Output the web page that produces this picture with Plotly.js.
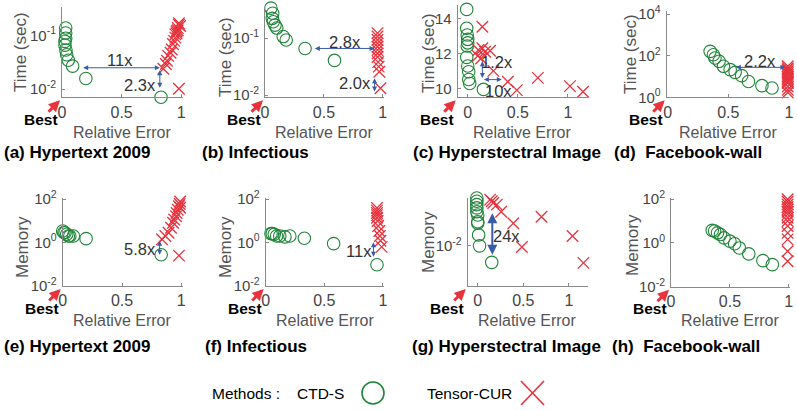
<!DOCTYPE html>
<html>
<head>
<meta charset="utf-8">
<script src="https://cdn.plot.ly/plotly-3.0.1.min.js"></script>
<style>
  html, body { margin:0; padding:0; background:#fff; }
  #chart { width:797px; height:410px; }
</style>
</head>
<body>
<div id="chart"></div>
<script>
// values: relative error vs time (top row) / memory (bottom row)
// (a) Hypertext 2009 - time
const aErrCtd  = [0.031, 0.031, 0.031, 0.025, 0.025, 0.033, 0.039, 0.053, 0.089, 0.20, 0.83];
const aTimeCtd = [0.138, 0.111, 0.0891, 0.0776, 0.0661, 0.0537, 0.0437, 0.0347, 0.0269, 0.0158, 0.00708];
const aErrCur  = [0.85, 0.87, 0.88, 0.89, 0.91, 0.92, 0.93, 0.94, 0.95, 0.95, 0.96, 0.96, 0.97, 0.97, 0.98, 0.98, 0.99, 0.98];
const aTimeCur = [0.024, 0.0295, 0.0339, 0.0417, 0.0479, 0.055, 0.0692, 0.0794, 0.0912, 0.105, 0.12, 0.11, 0.138, 0.125, 0.158, 0.17, 0.15, 0.0102];
// (b) Infectious - time
const bErrCtd  = [0.05, 0.065, 0.062, 0.07, 0.085, 0.10, 0.155, 0.18, 0.34, 0.59, 0.96];
const bTimeCtd = [0.339, 0.275, 0.224, 0.195, 0.17, 0.151, 0.107, 0.0933, 0.0661, 0.0407, 0.00912];
const bErrCur  = [0.955, 0.955, 0.955, 0.955, 0.955, 0.955, 0.955, 0.955, 0.96, 0.965, 0.97, 0.98];
const bTimeCur = [0.123, 0.107, 0.0933, 0.0813, 0.0708, 0.0617, 0.0537, 0.0468, 0.038, 0.0316, 0.0257, 0.0132];
// (c) Hyperstectral Image - time
const cErrCtd  = [-0.01, -0.01, -0.005, 0, 0, -0.005, -0.01, 0, 0.01, 0.01, 0.02, 0.157];
const cTimeCtd = [14.51, 13.43, 13.05, 12.8, 12.6, 12.42, 11.77, 11.28, 10.95, 10.51, 10.28, 9.94];
const cErrCur  = [0.146, 0.106, 0.146, 0.173, 0.223, 0.10, 0.133, 0.256, 0.40, 0.49, 0.70, 1.02, 1.15];
const cTimeCur = [13.52, 12.19, 12.29, 12.09, 12.15, 11.85, 11.71, 11.0, 10.38, 9.9, 10.6, 10.13, 9.81];
// (d) Facebook-wall - time
const dErrCtd  = [0.35, 0.377, 0.39, 0.424, 0.46, 0.515, 0.556, 0.61, 0.666, 0.777, 0.86];
const dTimeCtd = [162, 112, 77.6, 53.7, 30.9, 21.4, 15.8, 11.0, 5.75, 3.63, 2.82];
const dErrCur  = [0.99, 0.99, 0.99, 0.99, 0.99, 0.99, 0.99, 0.99, 0.99, 0.99, 0.99, 0.99, 0.99, 0.99];
const dTimeCur = [30.9, 25.1, 21.4, 17.8, 14.8, 12.3, 10.0, 8.3, 7.08, 5.8, 4.9, 3.31, 2.29, 1.7];
// (e) Hypertext 2009 - memory
const eErrCtd  = [0.0, 0.01, 0.02, 0.034, 0.048, 0.06, 0.09, 0.197, 0.83];
const eMemCtd  = [3.39, 2.9, 2.82, 2.4, 2.0, 2.0, 2.0, 1.51, 0.275];
const eErrCur  = [0.837, 0.865, 0.893, 0.913, 0.93, 0.94, 0.955, 0.96, 0.97, 0.98, 0.986, 0.99, 0.99, 0.98];
const eMemCur  = [1.41, 2.0, 2.82, 4.79, 8.13, 11.5, 16.2, 22.9, 32.4, 46.8, 58.9, 77.6, 39.8, 0.251];
// (f) Infectious - memory
const fErrCtd  = [0.045, 0.056, 0.073, 0.093, 0.12, 0.164, 0.206, 0.33, 0.58, 0.95];
const fMemCtd  = [2.57, 2.57, 2.4, 2.0, 2.0, 1.82, 2.0, 1.58, 0.891, 0.0955];
const fErrCur  = [0.95, 0.95, 0.95, 0.95, 0.95, 0.955, 0.96, 0.97, 0.975, 0.98, 0.99];
const fMemCur  = [38.9, 29.5, 22.9, 18.2, 13.8, 9.77, 5.75, 3.39, 2.0, 1.2, 0.631];
// (g) Hyperstectral Image - memory
const gErrCtd  = [-0.01, -0.01, -0.01, -0.01, -0.01, 0, 0, 0, 0.01, 0.02, 0.154];
const gMemCtd  = [0.0741, 0.0646, 0.0562, 0.049, 0.0417, 0.0363, 0.0275, 0.0257, 0.0158, 0.01, 0.00501];
const gErrCur  = [0.125, 0.136, 0.154, 0.17, 0.21, 0.257, 0.39, 0.70, 0.485, 1.04, 1.16];
const gMemCur  = [0.0794, 0.0692, 0.0646, 0.0603, 0.0562, 0.0417, 0.0257, 0.0339, 0.00955, 0.0151, 0.0049];
// (h) Facebook-wall - memory
const hErrCtd  = [0.35, 0.37, 0.395, 0.42, 0.45, 0.5, 0.54, 0.58, 0.66, 0.78, 0.86];
const hMemCtd  = [3.72, 3.47, 2.88, 2.4, 1.7, 1.2, 0.912, 0.589, 0.316, 0.155, 0.102];
const hErrCur  = [0.99, 0.99, 0.99, 0.99, 0.99, 0.99, 0.99, 0.99, 0.99, 0.99, 0.99, 0.99, 0.99, 0.99];
const hMemCur  = [97.7, 75.9, 56.2, 43.7, 33.9, 26.3, 20, 14.1, 10, 5.89, 2.88, 1.45, 0.417, 0.145];

// speed-up / saving arrows: [panel, x0, y0, x1, y1] (y in data units)
const ratioArrows = [
  ['a', 0.165, 0.0251, 0.82, 0.0251],
  ['a', 0.82, 0.024, 0.82, 0.0107],
  ['b', 0.41, 0.0661, 0.93, 0.0661],
  ['b', 0.93, 0.0209, 0.93, 0.0115],
  ['c', 0.146, 10.5, 0.146, 11.55],
  ['c', 0.146, 10.5, 0.34, 10.5],
  ['d', 0.55, 27.5, 0.97, 27.5],
  ['e', 0.817, 1.41, 0.817, 0.275],
  ['f', 0.92, 1.2, 0.92, 0.224],
  ['g', 0.16, 0.0417, 0.16, 0.0069]
];
// ratio labels: [panel, text, x, y]
const ratioLabels = [
  ['a', '11x', 0.49, 0.0355], ['a', '2.3x', 0.655, 0.012],
  ['b', '2.8x', 0.68, 0.087], ['b', '2.0x', 0.76, 0.0162],
  ['c', '1.2x', 0.29, 11.52], ['c', '10x', 0.306, 9.86],
  ['d', '2.2x', 0.76, 53.7],
  ['e', '5.8x', 0.65, 0.5], ['f', '11x', 0.80, 0.42], ['g', '24x', 0.32, 0.0148]
];

const captions = ['(a) Hypertext 2009', '(b) Infectious', '(c) Hyperstectral Image', '(d)  Facebook-wall',
                  '(e) Hypertext 2009', '(f) Infectious', '(g) Hyperstectral Image', '(h)  Facebook-wall'];

const W = 797, H = 410;
const GREEN = '#1f8538', RED = '#e8323c', BLUE = '#3a5ba8', AX = '#8a8a8a';
const FONT = 'Liberation Sans, Arial, sans-serif';
const px = v => v / W, py = v => 1 - v / H;

const sup = e => '10<sup>' + e + '</sup>';

// panel boxes in pixels: [left, right, top, bottom]
const panels = [
  {k:'a', ex:aErrCtd, ey:aTimeCtd, cx:aErrCur, cy:aTimeCur, box:[62,182.5,7,97.3], xr:[0,1.01], yr:[-2.15,-0.47], log:true,
   tv:[0.01,0.1], tt:[sup(-2),sup(-1)], yt:'Time (sec)', ytp:[20,52], cap:[2,152], xt:[122,132]},
  {k:'b', ex:bErrCtd, ey:bTimeCtd, cx:bErrCur, cy:bTimeCur, box:[265,384,7,97.3], xr:[0,1.01], yr:[-2.04,-0.45], log:true,
   tv:[0.01,0.1], tt:[sup(-2),sup(-1)], yt:'Time (sec)', ytp:[225,57], cap:[200,152], xt:[324,132]},
  {k:'c', ex:cErrCtd, ey:cTimeCtd, cx:cErrCur, cy:cTimeCur, box:[457.7,588,5,97.3], xr:[-0.1,1.2], yr:[9.49,14.76], log:false,
   tv:[10,12,14], tt:['10','12','14'], yt:'Time (sec)', ytp:[428,53], cap:[411,152], xt:[522,132]},
  {k:'d', ex:dErrCtd, ey:dTimeCtd, cx:dErrCur, cy:dTimeCur, box:[666.7,789,11,97.3], xr:[-0.008,1.0], yr:[0,4.15], log:true,
   tv:[1,100,10000], tt:[sup(0),sup(2),sup(4)], yt:'Time (sec)', ytp:[630,54], cap:[612,152], xt:[728,132]},
  {k:'e', ex:eErrCtd, ey:eMemCtd, cx:eErrCur, cy:eMemCur, box:[62.7,182.5,198,286], xr:[0,1.01], yr:[-2,2.05], log:true,
   tv:[0.01,1,100], tt:[sup(-2),sup(0),sup(2)], yt:'Memory', ytp:[22,247], cap:[2,346], xt:[122,320]},
  {k:'f', ex:fErrCtd, ey:fMemCtd, cx:fErrCur, cy:fMemCur, box:[265.7,384,198,286], xr:[0,1.01], yr:[-2,2.05], log:true,
   tv:[0.01,1,100], tt:[sup(-2),sup(0),sup(2)], yt:'Memory', ytp:[225,247], cap:[203,346], xt:[325,320]},
  {k:'g', ex:gErrCtd, ey:gMemCtd, cx:gErrCur, cy:gMemCur, box:[467.7,588,198,286], xr:[-0.11,1.21], yr:[-2.73,-1.13], log:true,
   tv:[0.01], tt:[sup(-2)], yt:'Memory', ytp:[428,242], cap:[410,346], xt:[527,320]},
  {k:'h', ex:hErrCtd, ey:hMemCtd, cx:hErrCur, cy:hMemCur, box:[671,790,198,286.7], xr:[0,1.01], yr:[-2,2.05], log:true,
   tv:[0.01,1,100], tt:[sup(-2),sup(0),sup(2)], yt:'Memory', ytp:[632,245], cap:[610,346], xt:[730,320]}
];

const traces = [];
const layout = {
  width: W, height: H,
  margin: {l:0, r:0, t:0, b:0},
  paper_bgcolor: '#fff', plot_bgcolor: 'rgba(0,0,0,0)',
  showlegend: false,
  font: {family: FONT},
  annotations: [], shapes: []
};

const axisIdx = {};
panels.forEach((p, i) => {
  const n = i === 0 ? '' : String(i + 1);
  axisIdx[p.k] = n;
  const xa = 'x' + n, ya = 'y' + n;
  traces.push({
    type:'scatter', mode:'markers', x:p.ex, y:p.ey, xaxis:xa, yaxis:ya, cliponaxis:false,
    marker:{symbol:'circle-open', size:12.5, color:GREEN, line:{width:1.1, color:GREEN}}
  });
  traces.push({
    type:'scatter', mode:'markers', x:p.cx, y:p.cy, xaxis:xa, yaxis:ya, cliponaxis:false,
    marker:{symbol:'x-thin-open', size:11.5, color:RED, line:{width:1.3, color:RED}}
  });
  const [l, r, t, b] = p.box;
  const common = {
    showline:true, linecolor:AX, linewidth:1, ticks:'inside', ticklen:3, tickcolor:AX,
    showgrid:false, zeroline:false, fixedrange:true,
    tickfont:{family:FONT, size:15, color:'#444'}
  };
  layout['xaxis' + n] = Object.assign({}, common, {
    domain:[px(l), px(r)], range:p.xr, anchor:ya,
    tickmode:'array', tickvals:[0,0.5,1], ticktext:['0','0.5','1'],
    tickfont:{family:FONT, size:16, color:'#444'}
  });
  layout['yaxis' + n] = Object.assign({}, common, {
    domain:[py(b), py(t)], range:p.yr, anchor:xa, type:p.log ? 'log' : 'linear',
    tickmode:'array', tickvals:p.tv, ticktext:p.tt, ticklabelstandoff:2
  });

  // axis titles
  layout.annotations.push({xref:'paper', yref:'paper', x:px(p.xt[0]), y:py(p.xt[1]), text:'Relative Error',
    showarrow:false, xanchor:'center', yanchor:'middle', font:{family:FONT, size:16, color:'#555'}});
  layout.annotations.push({xref:'paper', yref:'paper', x:px(p.ytp[0]), y:py(p.ytp[1]), text:p.yt, textangle:-90,
    showarrow:false, xanchor:'center', yanchor:'middle', font:{family:FONT, size:17, color:'#555'}});
  // caption
  layout.annotations.push({xref:'paper', yref:'paper', x:px(p.cap[0]), y:py(p.cap[1]), text:'<b>' + captions[i] + '</b>',
    showarrow:false, xanchor:'left', yanchor:'middle', font:{family:FONT, size:17, color:'#000'}});
  // "Best": red arrow pointing at the origin corner, label below-left of it
  layout.annotations.push({xref:xa + ' domain', yref:ya + ' domain', x:0, y:0, xshift:-2, yshift:-3,
    ax:-13, ay:13, text:'', showarrow:true, arrowcolor:RED, arrowwidth:3, arrowhead:2, arrowsize:0.75});
  layout.annotations.push({xref:xa + ' domain', yref:ya + ' domain', x:0, y:0, xshift:-21, yshift:-22,
    text:'<b>Best</b>', showarrow:false, xanchor:'center', yanchor:'middle',
    font:{family:FONT, size:15.5, color:'#000'}});
});

const lg = (p, v) => p.log ? Math.log10(v) : v;
const byKey = Object.fromEntries(panels.map(p => [p.k, p]));

ratioArrows.forEach(([k, x0, y0, x1, y1]) => {
  const p = byKey[k], n = axisIdx[k];
  layout.annotations.push({xref:'x' + n, yref:'y' + n, axref:'x' + n, ayref:'y' + n,
    x:x1, y:lg(p, y1), ax:x0, ay:lg(p, y0), text:'', showarrow:true, arrowside:'end+start',
    arrowhead:2, startarrowhead:2, arrowsize:1, startarrowsize:1,
    arrowwidth:k === 'g' ? 2 : 1, arrowcolor:BLUE});
});
ratioLabels.forEach(([k, txt, x, y]) => {
  const p = byKey[k], n = axisIdx[k];
  layout.annotations.push({xref:'x' + n, yref:'y' + n, x:x, y:lg(p, y), text:txt, showarrow:false,
    xanchor:'center', yanchor:'middle', font:{family:FONT, size:16.5, color:'#333'}});
});

// methods legend
const legendFont = {family:FONT, size:15.5, color:'#000'};
[['Methods :', 210], ['CTD-S', 295], ['Tensor-CUR', 425]].forEach(([t, x]) => {
  layout.annotations.push({xref:'paper', yref:'paper', x:px(x), y:py(393), text:t, showarrow:false,
    xanchor:'left', yanchor:'middle', font:legendFont});
});
layout.shapes.push({type:'circle', xref:'paper', yref:'paper', x0:px(362), x1:px(384), y0:py(404), y1:py(382),
  line:{color:GREEN, width:1.6}});
layout.shapes.push({type:'line', xref:'paper', yref:'paper', x0:px(521), x1:px(544), y0:py(381), y1:py(405), line:{color:RED, width:1.6}});
layout.shapes.push({type:'line', xref:'paper', yref:'paper', x0:px(521), x1:px(544), y0:py(405), y1:py(381), line:{color:RED, width:1.6}});

Plotly.newPlot('chart', traces, layout, {displayModeBar:false, staticPlot:true});
</script>
</body>
</html>
